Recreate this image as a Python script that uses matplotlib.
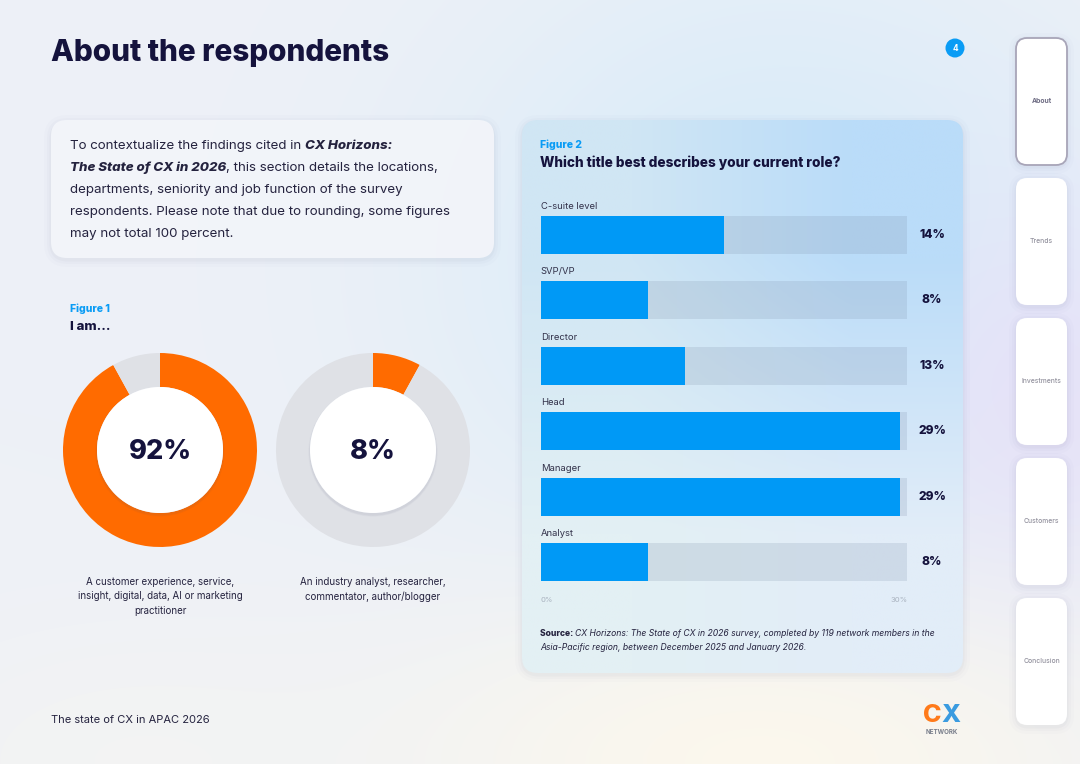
import matplotlib
matplotlib.use("Agg")
import matplotlib.pyplot as plt
import numpy as np
from matplotlib.patches import FancyBboxPatch, Circle

plt.rcParams["font.family"] = ["Inter", "DejaVu Sans"]

W, H = 1080, 764
NAVY = "#15133d"
BLUE = "#0a9cf5"
ORANGE = "#ff6b00"

# --- data ---
roles = ["C-suite level", "SVP/VP", "Director", "Head", "Manager", "Analyst"]
role_share = [14, 8, 13, 29, 29, 8]                 # printed labels (%)
role_bar = [15.0, 8.8, 11.8, 29.4, 29.4, 8.8]       # bar lengths as drawn
role_axis_max = 30

iam_labels = [
    "A customer experience, service,\ninsight, digital, data, AI or marketing\npractitioner",
    "An industry analyst, researcher,\ncommentator, author/blogger",
]
iam_share = [92, 8]

nav_items = ["About", "Trends", "Investments", "Customers", "Conclusion"]


def px_box(x0, y0, x1, y1):
    return [x0 / W, 1 - y1 / H, (x1 - x0) / W, (y1 - y0) / H]


def hex_rgb(h):
    h = h.lstrip("#")
    return np.array([int(h[i:i + 2], 16) for i in (0, 2, 4)]) / 255.0


YY, XX = np.mgrid[0:H, 0:W].astype(float)


def blob(img, cx, cy, rx, ry, color, strength=1.0):
    d2 = ((XX - cx) / rx) ** 2 + ((YY - cy) / ry) ** 2
    w = np.exp(-d2) * strength
    img[:] = img * (1 - w[..., None]) + hex_rgb(color) * w[..., None]


fig = plt.figure(figsize=(W / 100, H / 100), dpi=100)
bg = fig.add_axes([0, 0, 1, 1])
bg.set_xlim(0, W)
bg.set_ylim(H, 0)
bg.axis("off")

# page background
img = np.ones((H, W, 3)) * hex_rgb("#eef1f7")
blob(img, 780, 260, 330, 300, "#d3eafa", 0.85)
blob(img, 1050, 400, 180, 200, "#e6e0f8", 0.8)
blob(img, 760, 760, 380, 170, "#fdf8ec", 0.9)
blob(img, 120, 760, 260, 140, "#f6f5f1", 0.6)
bg.imshow(img, extent=[0, W, H, 0], aspect="auto", interpolation="bilinear", zorder=0)


def card(x0, y0, x1, y1, r, fc, ec="none", lw=0, alpha=1.0, shadow=True, z=1):
    if shadow:
        for k, a in ((8, 0.015), (5, 0.025), (2.5, 0.035)):
            bg.add_patch(FancyBboxPatch((x0 - k + 1, y0 - k + 3), x1 - x0 + 2 * k - 2, y1 - y0 + 2 * k - 2,
                                        boxstyle=f"round,pad=0,rounding_size={r + k}",
                                        fc="#5a6080", ec="none", alpha=a, zorder=z))
    p = FancyBboxPatch((x0, y0), x1 - x0, y1 - y0, boxstyle=f"round,pad=0,rounding_size={r}",
                       fc=fc, ec=ec, lw=lw, alpha=alpha, zorder=z + 0.1)
    bg.add_patch(p)
    return p


# title + page number
bg.text(51, 53, "About the respondents", fontsize=21.4, fontweight="heavy", color=NAVY, va="center", zorder=5)
bg.add_patch(Circle((955, 48), 9.5, fc=BLUE, ec="none", zorder=5))
bg.text(955, 48.5, "4", fontsize=6, fontweight="bold", color="white", ha="center", va="center", zorder=6)

# side navigation
for i, name in enumerate(nav_items):
    y0 = 38 + i * 140
    card(1016, y0, 1067, y0 + 127, 11, "white",
         ec="#a8a5b8" if i == 0 else "none", lw=1.3 if i == 0 else 0)
    bg.text(1041.5, y0 + 63, name, fontsize=4.9, color="#6f6d84" if i == 0 else "#94939f",
            fontweight="bold" if i == 0 else "medium", ha="center", va="center", zorder=5)

# intro text box
card(51, 120, 494, 258, 16, "#f3f5fa", alpha=0.95)
renderer = fig.canvas.get_renderer()


def rich(x, y, runs, size, color=NAVY):
    for txt, style, weight in runs:
        t = bg.text(x, y, txt, fontsize=size, fontstyle=style, fontweight=weight,
                    color=color, va="center", zorder=6)
        x += t.get_window_extent(renderer).width


para = [
    [("To contextualize the findings cited in ", "normal", "normal"), ("CX Horizons:", "italic", "heavy")],
    [("The State of CX in 2026", "italic", "heavy"), (", this section details the locations,", "normal", "normal")],
    [("departments, seniority and job function of the survey", "normal", "normal")],
    [("respondents. Please note that due to rounding, some figures", "normal", "normal")],
    [("may not total 100 percent.", "normal", "normal")],
]
for k, runs in enumerate(para):
    rich(70, 146 + k * 22, runs, 9.6, "#25233f")

# figure 1 headings
bg.text(70, 309, "Figure 1", fontsize=7.5, fontweight="heavy", color=BLUE, va="center", zorder=5)
bg.text(70, 327, "I am...", fontsize=9.5, fontweight="heavy", color=NAVY, va="center", zorder=5)

# donuts
R_OUT, R_IN = 97, 63
for cx, share, label in zip([160, 373], iam_share, iam_labels):
    ax = fig.add_axes(px_box(cx - R_OUT - 6, 450 - R_OUT - 6, cx + R_OUT + 6, 450 + R_OUT + 6))
    ax.pie([share, 100 - share], colors=[ORANGE, "#dfe1e6"], startangle=90, counterclock=False,
           radius=1, wedgeprops=dict(width=(R_OUT - R_IN) / R_OUT, linewidth=0))
    ri = R_IN / R_OUT
    for k, a in ((0.06, 0.025), (0.04, 0.035), (0.02, 0.045)):
        ax.add_patch(Circle((0.0, -0.02), ri + k * 0.3, fc="#505878", ec="none", alpha=a))
    ax.add_patch(Circle((0, 0), ri, fc="white", ec="none"))
    ax.text(0, -0.02, f"{share}%", fontsize=19.5, fontweight="heavy", color=NAVY, ha="center", va="center")
    ax.set_xlim(-1 - 6 / R_OUT, 1 + 6 / R_OUT)
    ax.set_ylim(-1 - 6 / R_OUT, 1 + 6 / R_OUT)
    ax.set_aspect("equal")
    ax.axis("off")
    bg.text(cx, 577, label, fontsize=7, color="#25233f", ha="center", va="top",
            linespacing=1.55, zorder=5)

# figure 2 panel
panel = card(522, 120, 963, 673, 16, "none", shadow=True)
pimg = np.zeros((2, 2, 3))
pimg[0, 0], pimg[0, 1] = hex_rgb("#d0e6f4"), hex_rgb("#badcf9")
pimg[1, 0], pimg[1, 1] = hex_rgb("#e3f0f4"), hex_rgb("#e2edf8")
im = bg.imshow(pimg, extent=[522, 963, 673, 120], aspect="auto", interpolation="bilinear", zorder=1.2)
im.set_clip_path(panel)
bg.set_xlim(0, W)
bg.set_ylim(H, 0)

bg.text(540, 145, "Figure 2", fontsize=7.5, fontweight="heavy", color=BLUE, va="center", zorder=5)
bg.text(540, 163, "Which title best describes your current role?", fontsize=9.8,
        fontweight="heavy", color=NAVY, va="center", zorder=5)

row_h = 65.4
ax2 = fig.add_axes(px_box(540.7, 235 - row_h / 2, 907.3, 235 + row_h * 5.5))
ax2.set_facecolor("none")
ypos = np.arange(len(roles))
ax2.barh(ypos, [role_axis_max] * len(roles), height=38 / row_h, color="#7d8fa8", alpha=0.2, lw=0)
ax2.barh(ypos, role_bar, height=38 / row_h, color="#0099f6", lw=0)
ax2.set_xlim(0, role_axis_max)
ax2.set_ylim(len(roles) - 0.5, -0.5)
for yi, name, val in zip(ypos, roles, role_share):
    ax2.text(0, yi - 0.435, name, fontsize=6.8, color="#33324a", va="center", ha="left")
    ax2.text(role_axis_max + 2.03, yi, f"{val}%", fontsize=8.6, fontweight="heavy",
             color=NAVY, va="center", ha="center", clip_on=False)
for s in ax2.spines.values():
    s.set_visible(False)
ax2.set_yticks([])
ax2.set_xticks([0, role_axis_max], ["0%", f"{role_axis_max}%"])
ax2.tick_params(axis="x", length=0, pad=2, labelsize=5.5, labelcolor="#a9b2bf")
xt = ax2.get_xticklabels()
xt[0].set_ha("left")
xt[1].set_ha("right")

rich(540, 633, [("Source: ", "normal", "heavy"),
                ("CX Horizons: The State of CX in 2026 survey, completed by 119 network members in the",
                 "italic", "normal")], 6.2, "#25233f")
rich(540, 648, [("Asia-Pacific region, between December 2025 and January 2026.", "italic", "normal")],
     6.2, "#25233f")

# footer
bg.text(51, 720, "The state of CX in APAC 2026", fontsize=8, color="#25233f", va="center", zorder=5)
bg.text(932, 715, "C", fontsize=18, fontweight="heavy", color="#ff7a1a", ha="center", va="center", zorder=5)
bg.text(951, 715, "X", fontsize=18, fontweight="heavy", color="#3a9be0", ha="center", va="center", zorder=5)
bg.text(942, 732, "NETWORK", fontsize=4.5, fontweight="bold", color="#7a7f8c", ha="center", va="center", zorder=5)

fig.savefig("out.png", dpi=100)
